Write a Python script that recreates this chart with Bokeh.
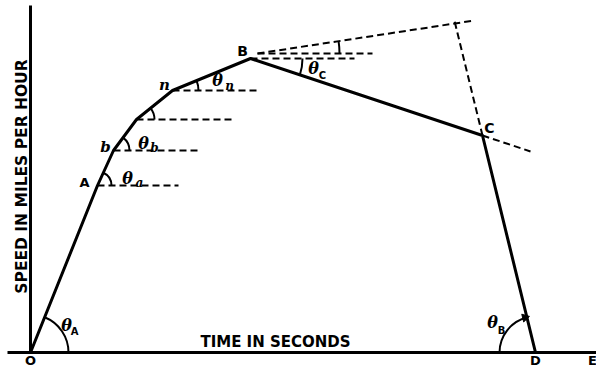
import math
from bokeh.plotting import figure
from bokeh.models import Range1d
from bokeh.core.properties import value
from bokeh.embed import file_html
from bokeh.resources import INLINE

# ---- data (time in seconds, speed in mph; arbitrary diagram units) ----
vertex_labels = ["O", "A", "b", "", "n", "B", "C", "D"]
time_s = [0, 67, 83, 106, 142, 220, 452, 505]
speed_mph = [0, 167, 202, 233, 262, 294, 217, 0]

# horizontal reference (dashed) lines from A, b, 3rd point, n and B: end time
ref_end_time = [148, 170, 204, 229, 324]

# tangent construction near B
tan_start = [227, 299]      # start of upper reference horizontal / tangent
tan_h_end = 342             # end of upper reference horizontal
tan_end = [444, 332]        # end of tangent line
cd_ext_speed = 334          # CD extended upward to this speed
bc_ext_time = 500           # BC extended beyond C to this time

x_label = "TIME IN SECONDS"
y_label = "SPEED IN MILES PER HOUR"

W, H = 596, 367
p = figure(width=W, height=H, x_range=Range1d(-30, 566), y_range=Range1d(-15, 352),
           output_backend="svg", toolbar_location=None, min_border=0,
           outline_line_color=None)
p.xaxis.visible = False
p.yaxis.visible = False
p.grid.visible = False
p.background_fill_color = "white"

K = "black"
sans = value("DejaVu Sans")
serif = value("DejaVu Serif")

# axes lines
p.line([0, 0], [0, 347], line_color=K, line_width=3)
p.line([-23, 570], [0, 0], line_color=K, line_width=3)

# main speed-time curve
p.line(time_s, speed_mph, line_color=K, line_width=3)

# dashed horizontals from A, b, 3rd, n, B
hx, hy = [], []
for i, xe in zip([1, 2, 3, 4, 5], ref_end_time):
    hx.append([time_s[i], xe])
    hy.append([speed_mph[i], speed_mph[i]])
hx.append([tan_start[0], tan_h_end])
hy.append([tan_start[1], tan_start[1]])
p.multi_line(hx, hy, line_color=K, line_width=2, line_dash="7 4")

# tangent line
p.line([tan_start[0], tan_end[0]], [tan_start[1], tan_end[1]], line_color=K,
       line_width=2, line_dash="7 4")

# CD extension upward
cx, cy = time_s[6], speed_mph[6]
dx, dy = time_s[7], speed_mph[7]
t = (cd_ext_speed - cy) / (cy - dy)
p.line([cx, cx + (cx - dx) * t], [cy, cd_ext_speed], line_color=K, line_width=2,
       line_dash="7 4")
# BC extension beyond C
bx, by = time_s[5], speed_mph[5]
s = (bc_ext_time - cx) / (cx - bx)
p.line([cx, bc_ext_time], [cy, cy + (cy - by) * s], line_color=K, line_width=2,
       line_dash="7 4")

# angle arcs
def ang(i, j):
    return math.atan2(speed_mph[j] - speed_mph[i], time_s[j] - time_s[i])

arcs = [
    (0, 1, 38),
    (1, 2, 14),
    (2, 3, 16),
    (3, 4, 18),
    (4, 5, 26),
]
for i, j, r in arcs:
    p.arc(x=time_s[i], y=speed_mph[i], radius=r, start_angle=0, end_angle=ang(i, j),
          line_color=K, line_width=2)
# theta C (below horizontal at B)
p.arc(x=bx, y=by, radius=52, start_angle=ang(5, 6), end_angle=0, line_color=K, line_width=2)
# small arc at tangent
ta = math.atan2(tan_end[1] - tan_start[1], tan_end[0] - tan_start[0])
p.arc(x=tan_start[0], y=tan_start[1], radius=82, start_angle=0, end_angle=ta,
      line_color=K, line_width=2)
# theta B at D
aD = ang(7, 6)
rB = 36
p.arc(x=dx, y=dy, radius=rB, start_angle=aD, end_angle=math.pi, line_color=K, line_width=2)
tipx = dx + rB * math.cos(aD)
tipy = dy + rB * math.sin(aD)
dirang = math.atan2(-math.cos(aD), math.sin(aD))
p.scatter([tipx - 2], [tipy], marker="triangle", size=8, angle=dirang - math.pi / 2,
          fill_color=K, line_color=K)

# point labels
p.text(x=[54], y=[170], text=["A"], text_font=sans, text_font_style="bold",
       text_font_size="13px", text_align="center", text_baseline="middle")
p.text(x=[212, 459], y=[302, 225], text=["B", "C"], text_font=sans,
       text_font_style="bold", text_font_size="14px", text_align="center",
       text_baseline="middle")
p.text(x=[75, 134], y=[206, 268], text=["b", "n"], text_font=serif,
       text_font_style="bold italic", text_font_size="15px", text_align="center",
       text_baseline="middle")
p.text(x=[0, 505, 562], y=[-8, -8, -8], text=["O", "D", "E"], text_font=sans,
       text_font_style="bold", text_font_size="13px", text_align="center",
       text_baseline="middle")

# theta labels
p.text(x=[97, 113, 187, 283, 36, 462], y=[174, 209, 272, 284, 27, 30],
       text=["θ"] * 6, text_font=serif, text_font_style="bold italic",
       text_font_size="16px", text_align="center", text_baseline="middle")
p.text(x=[109, 124, 199], y=[170, 205, 267], text=["a", "b", "n"], text_font=serif,
       text_font_style="bold italic", text_font_size="12px", text_align="center",
       text_baseline="middle")
p.text(x=[292, 44, 471], y=[277, 21, 22], text=["C", "A", "B"], text_font=sans,
       text_font_style="bold", text_font_size="10px", text_align="center",
       text_baseline="middle")

# axis titles
p.text(x=[245], y=[11], text=[x_label], text_font=sans, text_font_style="bold",
       text_font_size="15px", text_align="center", text_baseline="middle")
p.text(x=[-9], y=[176], text=[y_label], text_font=sans, text_font_style="bold",
       text_font_size="15.5px", text_align="center", text_baseline="middle",
       angle=math.pi / 2)

open("out.html", "w").write(file_html(p, INLINE))
